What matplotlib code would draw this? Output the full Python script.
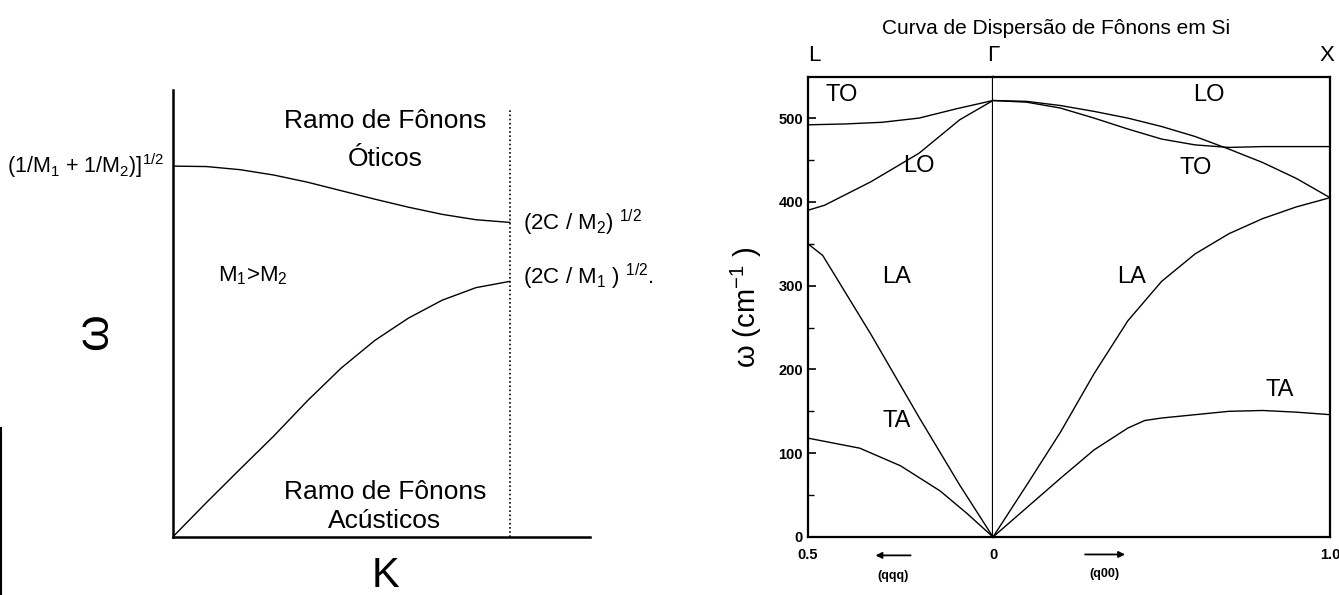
import matplotlib
matplotlib.use("Agg")
import matplotlib.pyplot as plt
from matplotlib.lines import Line2D

plt.rcParams["font.family"] = ["Liberation Sans", "DejaVu Sans"]
plt.rcParams["mathtext.fontset"] = "custom"
plt.rcParams["mathtext.rm"] = "Liberation Sans"
plt.rcParams["mathtext.it"] = "Liberation Sans"

# --- left panel: diatomic chain sketch (K in units of pi/a, omega normalised) ---
k_opt = [0.0, 0.1, 0.2, 0.3, 0.4, 0.5, 0.6, 0.7, 0.8, 0.9, 1.0]
w_opt = [0.830, 0.829, 0.822, 0.810, 0.794, 0.775, 0.756, 0.738, 0.722, 0.710, 0.704]
k_ac = [0.0, 0.1, 0.2, 0.3, 0.4, 0.5, 0.6, 0.7, 0.8, 0.9, 1.0]
w_ac = [0.0, 0.077, 0.152, 0.226, 0.305, 0.378, 0.44, 0.49, 0.53, 0.558, 0.572]

# --- right panel: Si phonon dispersion, cm^-1 ---
# L side, (qqq), q from 0.5 (L) to 0 (Gamma)
qL_TO = [0.5, 0.4, 0.3, 0.2, 0.1, 0.0]
wL_TO = [492, 493, 495, 500, 511, 521]
qL_LO = [0.5, 0.455, 0.33, 0.2, 0.09, 0.0]
wL_LO = [390, 396, 424, 458, 498, 521]
qL_LA = [0.5, 0.46, 0.33, 0.2, 0.09, 0.0]
wL_LA = [350, 336, 242, 143, 62, 0]
qL_TA = [0.5, 0.36, 0.25, 0.143, 0.07, 0.0]
wL_TA = [118, 106, 85, 55, 28, 0]

# X side, (q00), q from 0 (Gamma) to 1.0 (X)
qX_LO = [0.0, 0.1, 0.2, 0.3, 0.4, 0.5, 0.6, 0.7, 0.8, 0.9, 1.0]
wX_LO = [521, 520, 515, 508, 500, 490, 478, 463, 447, 428, 405]
qX_TO = [0.0, 0.1, 0.2, 0.3, 0.4, 0.5, 0.6, 0.7, 0.8, 0.9, 1.0]
wX_TO = [521, 519, 512, 500, 487, 475, 468, 465, 466, 466, 466]
qX_LA = [0.0, 0.1, 0.2, 0.3, 0.4, 0.5, 0.6, 0.7, 0.8, 0.9, 1.0]
wX_LA = [0, 62, 125, 195, 258, 305, 338, 362, 380, 394, 405]
qX_TA = [0.0, 0.1, 0.2, 0.3, 0.4, 0.45, 0.5, 0.6, 0.7, 0.8, 0.9, 1.0]
wX_TA = [0, 35, 70, 104, 130, 139, 142, 146, 150, 151, 149, 146]

fig = plt.figure(figsize=(13.39, 5.95), dpi=100)

# ---------------- left sketch ----------------
axl = fig.add_axes([0.129, 0.0975, 0.312, 0.751])
axl.plot(k_opt, w_opt, color="black", lw=1.0)
axl.plot(k_ac, w_ac, color="black", lw=1.0)
axl.axvline(1.0, ymax=0.955, color="black", lw=1.2, ls=(0, (1, 1.5)))
axl.set_xlim(0, 1.24)
axl.set_ylim(0, 1)
axl.set_xticks([])
axl.set_yticks([])
for s in ["top", "right"]:
    axl.spines[s].set_visible(False)
for s in ["left", "bottom"]:
    axl.spines[s].set_linewidth(1.8)

axl.text(-0.025, w_opt[0], r"(1/M$_1$ + 1/M$_2$)]$^{1/2}$", ha="right",
         va="center", fontsize=15.5)
axl.text(1.04, w_opt[-1], r"(2C / M$_2$) $^{1/2}$", ha="left", va="center",
         fontsize=16)
axl.text(1.04, w_ac[-1] + 0.01, r"(2C / M$_1$ ) $^{1/2}$.", ha="left",
         va="center", fontsize=16)
axl.text(0.63, 0.93, "Ramo de Fônons", ha="center", va="center", fontsize=19)
axl.text(0.63, 0.845, "Óticos", ha="center", va="center", fontsize=19)
axl.text(0.135, 0.585, r"M$_1$>M$_2$", ha="left", va="center", fontsize=16)
axl.text(0.63, 0.1, "Ramo de Fônons", ha="center", va="center", fontsize=19)
axl.text(0.63, 0.035, "Acústicos", ha="center", va="center", fontsize=19)
axl.text(-0.23, 0.46, "ω", ha="center", va="center", fontsize=34, rotation=90)
axl.text(0.63, -0.088, "K", ha="center", va="center", fontsize=30)

# ---------------- right dispersion ----------------
ylim = (0, 549)
ax1 = fig.add_axes([0.6034, 0.0975, 0.1382, 0.773])
ax2 = fig.add_axes([0.7416, 0.0975, 0.2517, 0.773], sharey=ax1)

for q, w in [(qL_TO, wL_TO), (qL_LO, wL_LO), (qL_LA, wL_LA), (qL_TA, wL_TA)]:
    ax1.plot(q, w, color="black", lw=1.0)
for q, w in [(qX_LO, wX_LO), (qX_TO, wX_TO), (qX_LA, wX_LA), (qX_TA, wX_TA)]:
    ax2.plot(q, w, color="black", lw=1.0)

ax1.set_xlim(0.5, 0.0)
ax2.set_xlim(0.0, 1.0)
ax1.set_ylim(*ylim)
ax1.set_xticks([0.5, 0.0])
ax1.set_xticklabels(["0.5", "0"])
ax2.set_xticks([1.0])
ax2.set_xticklabels(["1.0"])
ax1.set_yticks([0, 100, 200, 300, 400, 500])
ax1.set_yticks([50, 150, 250, 350, 450], minor=True)
ax2.tick_params(axis="y", left=False, labelleft=False, which="both")
ax1.tick_params(axis="y", which="major", direction="in", length=6, width=1.2,
                labelsize=10.5)
ax1.tick_params(axis="y", which="minor", direction="in", length=4, width=1.0)
ax1.tick_params(axis="x", length=0, labelsize=10.5, pad=8)
ax2.tick_params(axis="x", length=0, labelsize=10.5, pad=8)
for lab in ax1.get_xticklabels() + ax1.get_yticklabels() + ax2.get_xticklabels():
    lab.set_fontweight("bold")

ax2.spines["left"].set_visible(False)
for s in ["top", "bottom", "left", "right"]:
    ax1.spines[s].set_linewidth(1.6)
    ax2.spines[s].set_linewidth(1.6)

ax1.set_ylabel(r"ω (cm$^{-1}$ )", fontsize=21, labelpad=10)

lab_kw = dict(ha="center", va="center", fontsize=17)
ax1.text(0.41, 527, "TO", **lab_kw)
ax1.text(0.2, 443, "LO", **lab_kw)
ax1.text(0.26, 310, "LA", **lab_kw)
ax1.text(0.26, 138, "TA", **lab_kw)
ax2.text(0.64, 527, "LO", **lab_kw)
ax2.text(0.6, 440, "TO", **lab_kw)
ax2.text(0.41, 310, "LA", **lab_kw)
ax2.text(0.85, 176, "TA", **lab_kw)

# symmetry points and title
ax1.text(0.0, 1.025, "L", transform=ax1.transAxes, ha="left", va="bottom",
         fontsize=16)
ax2.text(0.0, 1.025, "Γ", transform=ax2.transAxes, ha="center", va="bottom",
         fontsize=16)
ax2.text(0.99, 1.025, "X", transform=ax2.transAxes, ha="center", va="bottom",
         fontsize=16)
fig.text(0.789, 0.952, "Curva de Dispersão de Fônons em Si", ha="center",
         va="center", fontsize=15)

# direction arrows below the axis
arrow = dict(arrowstyle="-|>", color="black", lw=1.3, mutation_scale=9)
ax1.annotate("", xy=(0.35, -0.04), xytext=(0.57, -0.04),
             xycoords="axes fraction", textcoords="axes fraction",
             arrowprops=arrow)
ax2.annotate("", xy=(0.4, -0.038), xytext=(0.265, -0.038),
             xycoords="axes fraction", textcoords="axes fraction",
             arrowprops=arrow)
ax1.text(0.46, -0.085, "(qqq)", transform=ax1.transAxes, ha="center",
         va="center", fontsize=9, fontweight="bold")
ax2.text(0.33, -0.08, "(q00)", transform=ax2.transAxes, ha="center",
         va="center", fontsize=9, fontweight="bold")

# scan artefact along the left edge
fig.add_artist(Line2D([0.001, 0.001], [0.0, 0.28], color="black", lw=1.5))

fig.savefig("out.png", dpi=100)
